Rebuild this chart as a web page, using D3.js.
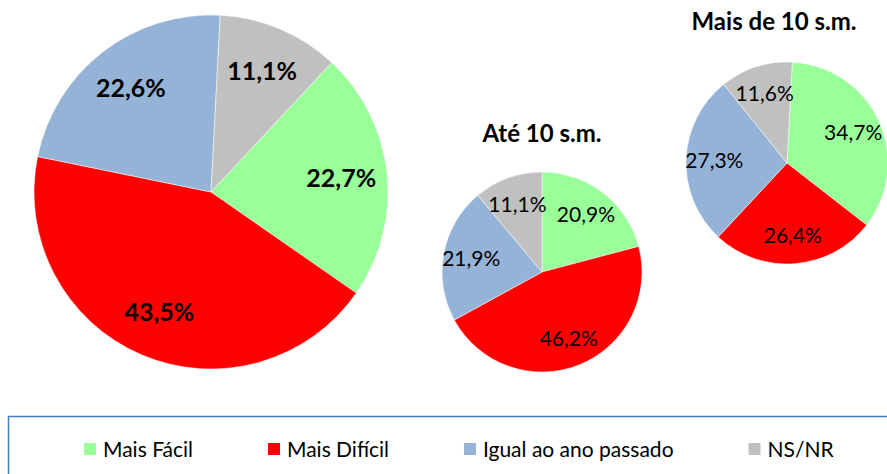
<!DOCTYPE html>
<html>
<head>
<meta charset="utf-8">
<script src="https://cdn.jsdelivr.net/npm/d3@7"></script>
<style>
  html, body { margin: 0; padding: 0; background: #fff; }
  svg { display: block; font-family: Lato, "Open Sans", sans-serif; }
</style>
</head>
<body>
<svg id="chart" width="887" height="474"></svg>
<script>
'use strict';

// categories and colours
var categories = ['Mais Fácil', 'Mais Difícil', 'Igual ao ano passado', 'NS/NR'];
var colors = ['#99ff99', '#ff0000', '#95b3d7', '#c0c0c0'];

// series values (%)
var totalValues = [22.7, 43.5, 22.6, 11.1];
var ate10Values = [20.9, 46.2, 21.9, 11.1];
var mais10Values = [34.7, 26.4, 27.3, 11.6];

var titles = ['', 'Até 10 s.m.', 'Mais de 10 s.m.'];

var svg = d3.select('#chart');

var color = d3.scaleOrdinal().domain(categories).range(colors);
var fmt = function(v) { return d3.format('.1f')(v).replace('.', ',') + '%'; };

// layout of the three pies
var pies = [
  { values: totalValues, title: titles[0], cx: 211, cy: 192, r: 177, start: 43, bold: true, fs: 25, lr: 0.74 },
  { values: ate10Values, title: titles[1], cx: 542, cy: 272, r: 100, start: 0, bold: false, fs: 21, lr: 0.72, tx: 542, ty: 142 },
  { values: mais10Values, title: titles[2], cx: 787, cy: 163, r: 101, start: 3, bold: false, fs: 21, lr: 0.72, tx: 774, ty: 30 }
];

pies.forEach(function(p) {
  var a0 = p.start * Math.PI / 180;
  var pie = d3.pie().sort(null)
      .value(function(d) { return d.value; })
      .startAngle(a0).endAngle(a0 + 2 * Math.PI);
  var arc = d3.arc().innerRadius(0).outerRadius(p.r);
  var labelArc = d3.arc().innerRadius(p.r * p.lr).outerRadius(p.r * p.lr);

  var data = pie(p.values.map(function(v, i) { return { key: categories[i], value: v }; }));

  var g = svg.append('g').attr('transform', 'translate(' + p.cx + ',' + p.cy + ')');

  g.selectAll('path').data(data).enter().append('path')
    .attr('d', arc)
    .attr('fill', function(d) { return color(d.data.key); })
    .attr('stroke', '#fff')
    .attr('stroke-width', 0.5);

  g.selectAll('text.lbl').data(data).enter().append('text')
    .attr('class', 'lbl')
    .attr('transform', function(d) { return 'translate(' + labelArc.centroid(d) + ')'; })
    .attr('text-anchor', 'middle')
    .attr('dy', '0.35em')
    .style('font-size', p.fs + 'px')
    .style('font-weight', p.bold ? 'bold' : 'normal')
    .attr('fill', '#000')
    .text(function(d) { return fmt(d.data.value); });

  if (p.title) {
    svg.append('text')
      .attr('x', p.tx)
      .attr('y', p.ty)
      .attr('text-anchor', 'middle')
      .style('font-size', '24px')
      .style('font-weight', 'bold')
      .text(p.title);
  }
});

// legend
var legend = svg.append('g');
legend.append('rect')
  .attr('x', 8.5).attr('y', 416.5)
  .attr('width', 900).attr('height', 80)
  .attr('fill', 'none')
  .attr('stroke', '#4a7ebb')
  .attr('stroke-width', 1.5);

var item = legend.selectAll('g.item').data(categories).enter().append('g')
  .attr('class', 'item');

item.append('rect')
  .attr('width', 12).attr('height', 12)
  .attr('fill', function(d) { return color(d); });

item.append('text')
  .attr('x', 19).attr('y', 14)
  .style('font-size', '21px')
  .text(function(d) { return d; });

// place items one after another, spaced by their text widths
var x = 84;
item.each(function() {
  var it = d3.select(this);
  it.attr('transform', 'translate(' + x + ',443)');
  x += 19 + it.select('text').node().getComputedTextLength() + 75;
});
</script>
</body>
</html>
